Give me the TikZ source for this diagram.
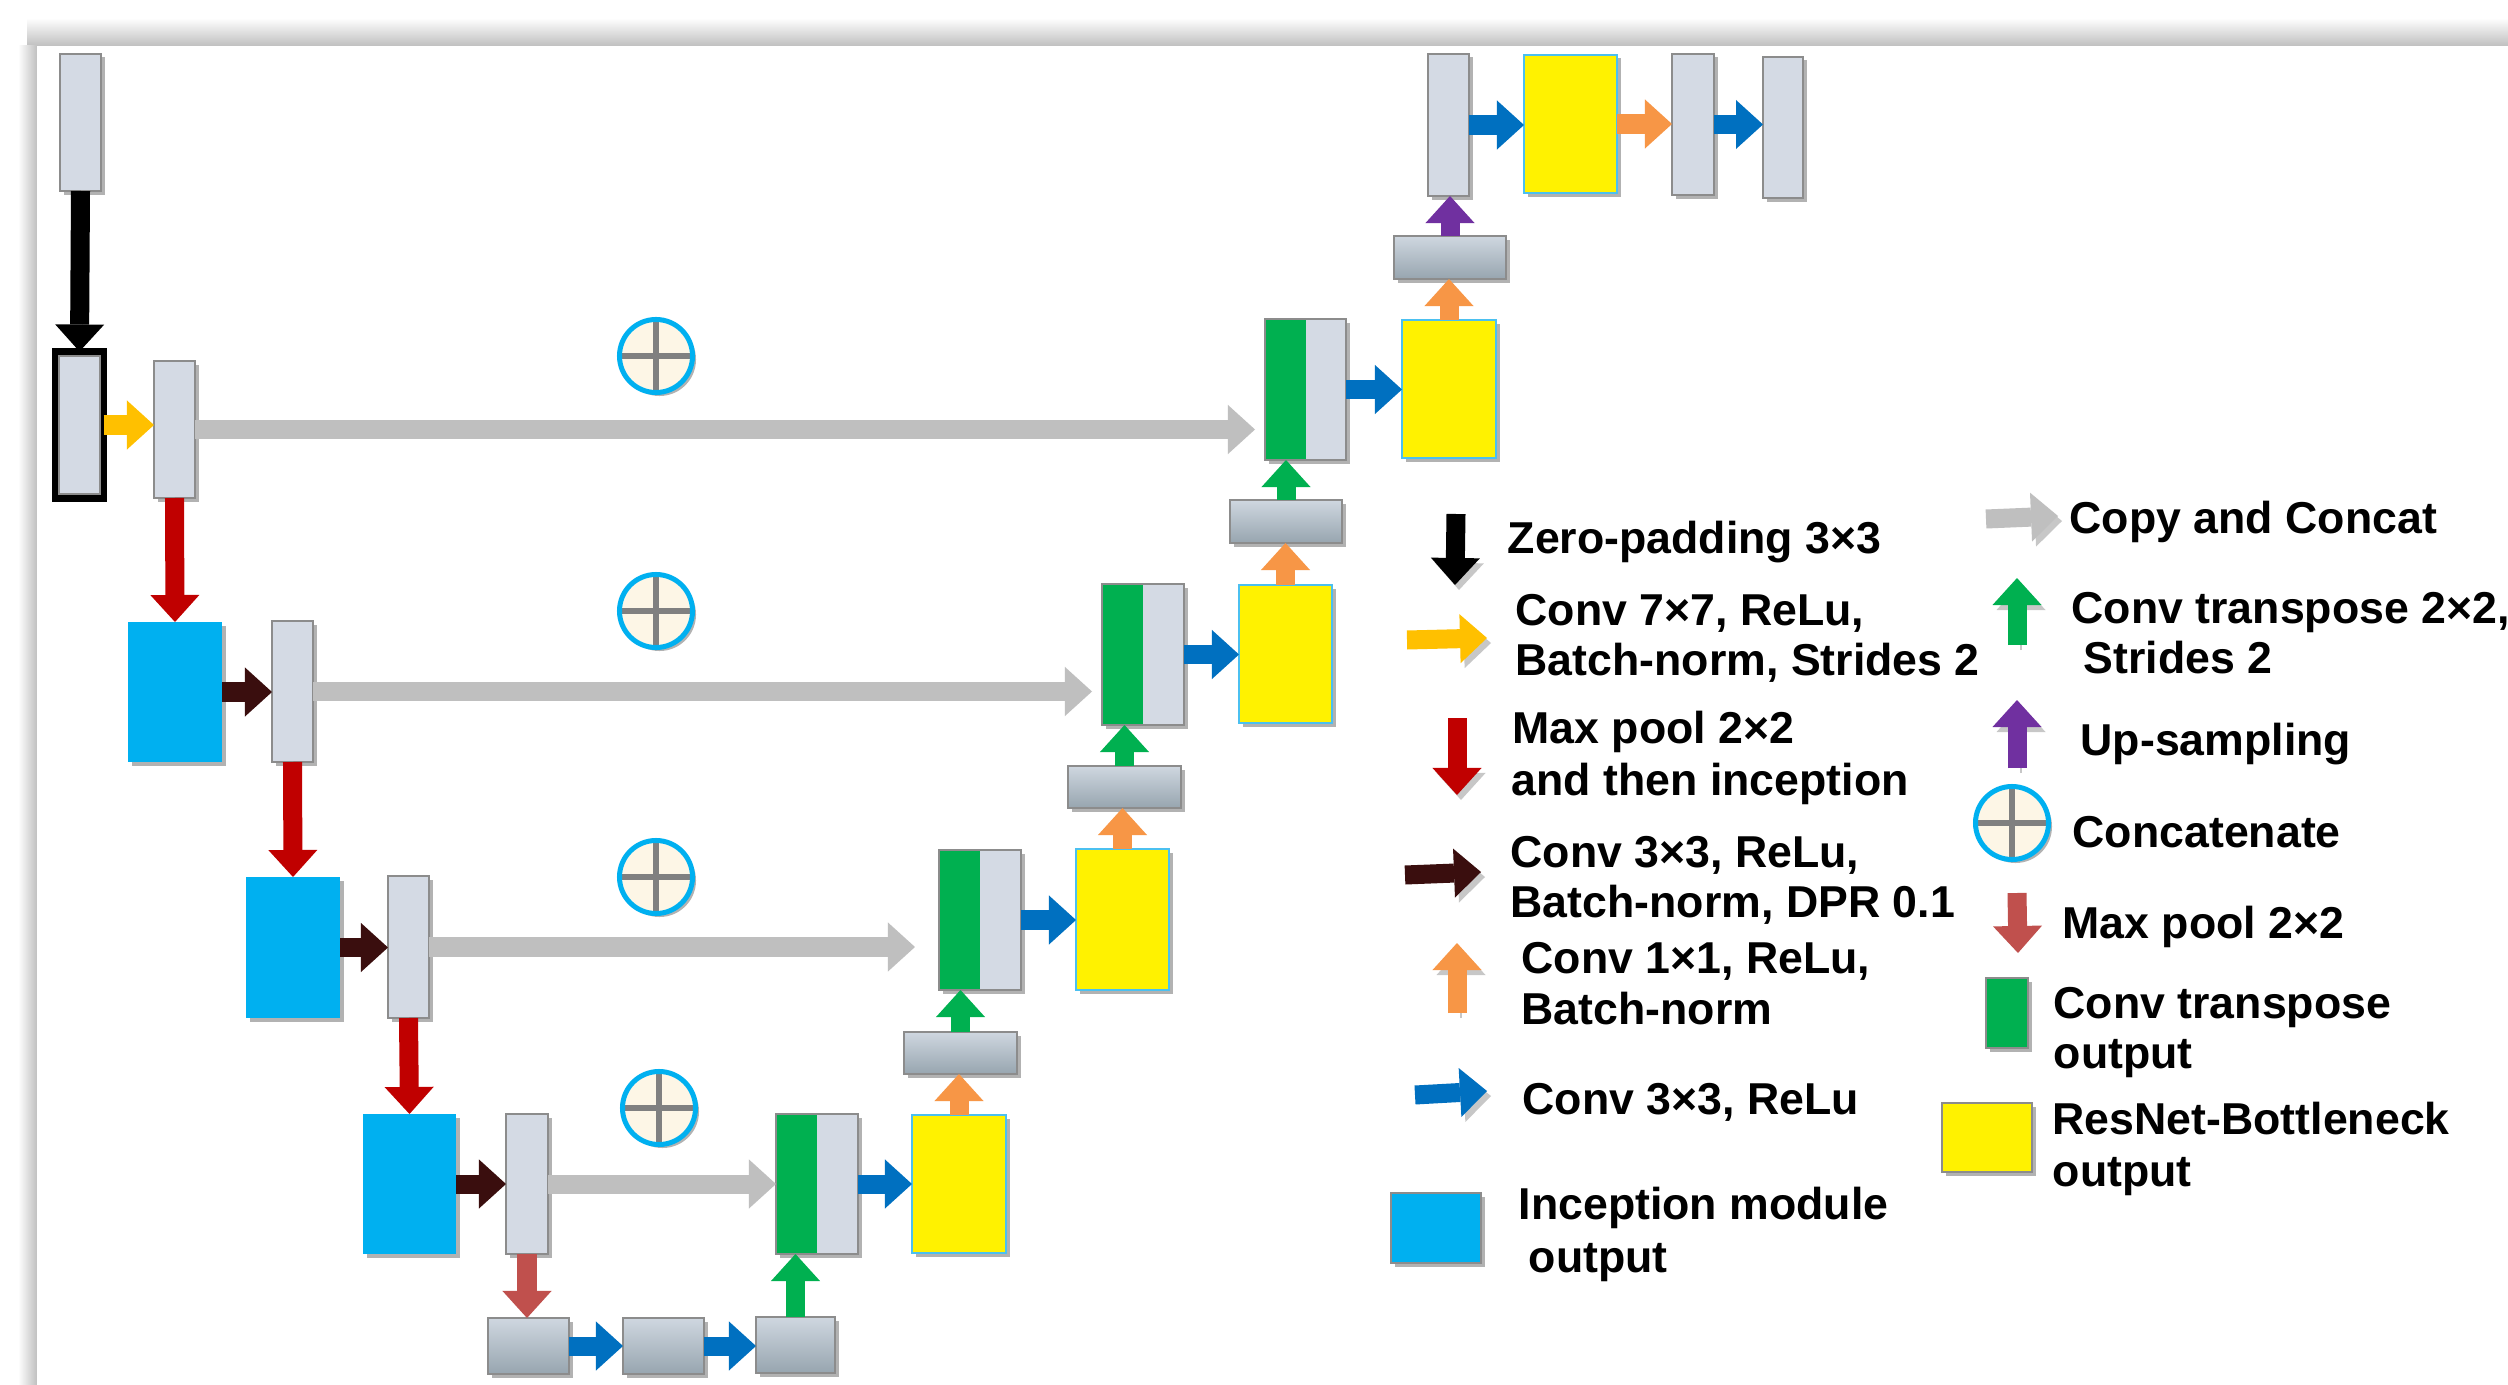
\documentclass[tikz,border=0pt]{standalone}
\usepackage{fontspec}
\setmainfont{Liberation Sans}
\usetikzlibrary{arrows.meta,fit,shadows,calc}
\definecolor{barfill}{HTML}{D4DAE4}
\definecolor{barline}{HTML}{8C8C8C}
\definecolor{hbtop}{HTML}{CFD7E0}
\definecolor{hbbot}{HTML}{97A5AF}
\definecolor{incblue}{HTML}{00B0F0}
\definecolor{cgreen}{HTML}{00B050}
\definecolor{cblue}{HTML}{0070C0}
\definecolor{corange}{HTML}{F79646}
\definecolor{cpurple}{HTML}{7030A0}
\definecolor{cred}{HTML}{C00000}
\definecolor{cpred}{HTML}{C0504D}
\definecolor{cbrown}{HTML}{3A0E0E}
\definecolor{cyel}{HTML}{FFC000}
\definecolor{cgray}{HTML}{BFBFBF}
\definecolor{cream}{HTML}{FDF6E6}
\definecolor{resline}{HTML}{4BC0F0}
\definecolor{crossg}{HTML}{808080}
\tikzset{
 bx/.style={inner sep=0pt, outer sep=0pt, line width=0.35pt},
 shd/.style={drop shadow={shadow xshift=0.035cm, shadow yshift=-0.035cm, opacity=0.3, fill=black}},
 bar/.style={bx, shd, draw=barline, fill=barfill},
 hbar/.style={bx, shd, draw=barline, top color=hbtop, bottom color=hbbot},
 inc/.style={bx, shd, fill=incblue},
 res/.style={bx, shd, draw=resline, fill=yellow, line width=0.5pt},
 ctb/.style={bar, path picture={\fill[cgreen] (path picture bounding box.north west) rectangle (path picture bounding box.south);}},
 cat/.style={circle, inner sep=0pt, outer sep=0pt, minimum size=0.73cm, draw=incblue, line width=0.05cm, fill=cream, shd,
   path picture={\draw[crossg, line width=0.065cm] (path picture bounding box.north) -- (path picture bounding box.south) (path picture bounding box.west) -- (path picture bounding box.east);}},
 ba/.style={color=#1, line width=0.19cm, -{Triangle[width=0.49cm,length=0.27cm,line width=0pt]}},
 lsh/.style={preaction={draw=black, opacity=0.22, transform canvas={shift={(0.04cm,-0.05cm)}}}},
 lab/.style={anchor=base west, inner sep=0pt, font=\bfseries\fontsize{12.7pt}{14pt}\selectfont},
}
\begin{document}
\begin{tikzpicture}[x=0.01cm,y=-0.01cm]
\useasboundingbox (0,0) rectangle (2508,1385);
% page and panel shadow
\fill[white] (0,0) rectangle (2508,1385);
\shade[top color=white, bottom color=black!25] (27,18) rectangle (2508,46);
\shade[left color=white, right color=black!25] (18,46) rectangle (37,1385);
\fill[white] (37,46) rectangle (2508,1385);

% ---------- encoder ----------
\node[bar, fit={(60,54) (101,191)}] (e0) {};
\node[bx, shd, draw=black, line width=0.07cm, fill=barfill, fit={(55.5,351.5) (103.5,498.5)}] (pad) {};
\draw[barline, line width=0.35pt] (59,356) rectangle (100,494);
\node[bar, fit={(154,361) (195,498)}] (e1) {};
\node[inc, fit={(128,622) (222,762)}] (i1) {};
\node[bar, fit={(272,621) (313,762)}] (e2) {};
\node[inc, fit={(246,877) (340,1018)}] (i2) {};
\node[bar, fit={(388,876) (429,1018)}] (e3) {};
\node[inc, fit={(363,1114) (456,1254)}] (i3) {};
\node[bar, fit={(506,1114) (548,1254)}] (e4) {};
% bottleneck row
\node[hbar, fit={(488,1318) (569,1374)}] (m1) {};
\node[hbar, fit={(623,1318) (704,1374)}] (m2) {};
\node[hbar, fit={(756,1317) (835,1373)}] (m3) {};
% ---------- decoder ----------
\node[ctb, fit={(776,1114) (858,1254)}] (g4) {};
\node[res, fit={(912,1115) (1006,1253)}] (y4) {};
\node[hbar, fit={(904,1032) (1017,1074)}] (h4) {};
\node[ctb, fit={(939,850) (1021,990)}] (g3) {};
\node[res, fit={(1076,849) (1169,990)}] (y3) {};
\node[hbar, fit={(1068,766) (1181,808)}] (h3) {};
\node[ctb, fit={(1102,584) (1184,725)}] (g2) {};
\node[res, fit={(1239,585) (1332,723)}] (y2) {};
\node[hbar, fit={(1230,500) (1342,543)}] (h2) {};
\node[ctb, fit={(1265,319) (1346,460)}] (g1) {};
\node[res, fit={(1402,320) (1496,458)}] (y1) {};
\node[hbar, fit={(1394,236) (1506,279)}] (h1) {};
\node[bar, fit={(1428,54) (1469,196)}] (ta) {};
\node[res, fit={(1524,55) (1617,193)}] (ty) {};
\node[bar, fit={(1672,54) (1714,195)}] (tb) {};
\node[bar, fit={(1763,57) (1803,198)}] (tc) {};
% concatenate symbols
\node[cat] (c1) at (656,356) {};
\node[cat] (c2) at (656,611) {};
\node[cat] (c3) at (656,877) {};
\node[cat] (c4) at (659,1108) {};

% ---------- connectors ----------
\draw[ba=black] (e0.south) -- (pad.north);
\draw[ba=cyel] (pad.east) -- (pad.east -| e1.west);
\draw[ba=cred] (e1.south) -- (i1.north);
\draw[ba=cbrown] (i1.east) -- (i1.east -| e2.west);
\draw[ba=cred] (e2.south) -- (i2.north);
\draw[ba=cbrown] (i2.east) -- (i2.east -| e3.west);
\draw[ba=cred] (e3.south) -- (i3.north);
\draw[ba=cbrown] (i3.east) -- (i3.east -| e4.west);
\draw[ba=cpred] (e4.south) -- (e4.south |- m1.north);
\draw[ba=cblue] (m1.east) -- (m1.east -| m2.west);
\draw[ba=cblue] (m2.east) -- (m2.east -| m3.west);
\draw[ba=cgreen] (m3.north) -- (m3.north |- g4.south);
% copy and concat
\draw[ba=cgray, shorten >=0.1cm] (e1.east) -- (e1.east -| g1.west);
\draw[ba=cgray, shorten >=0.1cm] (e2.east) -- (e2.east -| g2.west);
\draw[ba=cgray, shorten >=0.24cm] (e3.east) -- (e3.east -| g3.west);
\draw[ba=cgray] (e4.east) -- (e4.east -| g4.west);
% decoder
\draw[ba=cblue] (g4.east) -- (g4.east -| y4.west);
\draw[ba=corange] (y4.north) -- (y4.north |- h4.south);
\draw[ba=cgreen] (h4.north) -- (h4.north |- g3.south);
\draw[ba=cblue] (g3.east) -- (g3.east -| y3.west);
\draw[ba=corange] (y3.north) -- (y3.north |- h3.south);
\draw[ba=cgreen] (h3.north) -- (h3.north |- g2.south);
\draw[ba=cblue] (g2.east) -- (g2.east -| y2.west);
\draw[ba=corange] (y2.north) -- (y2.north |- h2.south);
\draw[ba=cgreen] (h2.north) -- (h2.north |- g1.south);
\draw[ba=cblue] (g1.east) -- (g1.east -| y1.west);
\draw[ba=corange] (y1.north) -- (y1.north |- h1.south);
\draw[ba=cpurple] (h1.north) -- (h1.north |- ta.south);
\draw[ba=cblue] (ta.east) -- (ta.east -| ty.west);
\draw[ba=corange] (ty.east) -- (ty.east -| tb.west);
\draw[ba=cblue] (tb.east) -- (tb.east -| tc.west);

% ---------- legend, left column ----------
\coordinate (la1) at (1456,514); \coordinate (lb1) at (1455,585);
\coordinate (la2) at (1407,640); \coordinate (lb2) at (1487,638);
\coordinate (la3) at (1457,718); \coordinate (lb3) at (1457,795);
\coordinate (la4) at (1405,875); \coordinate (lb4) at (1481,872);
\coordinate (la5) at (1457,1013); \coordinate (lb5) at (1457,943);
\coordinate (la6) at (1415,1095); \coordinate (lb6) at (1487,1091);
\draw[ba=black, lsh] (la1) -- (lb1);
\draw[ba=cyel, lsh] (la2) -- (lb2);
\draw[ba=cred, lsh] (la3) -- (lb3);
\draw[ba=cbrown, lsh] (la4) -- (lb4);
\draw[ba=corange, lsh] (la5) -- (lb5);
\draw[ba=cblue, lsh] (la6) -- (lb6);
\node[inc, draw=barline, fit={(1391,1193) (1481,1263)}] (lgi) {};
\node[lab] (t1) at (1507,553) {Zero-padding 3×3};
\node[lab] (t2a) at (1515,625) {Conv 7×7, ReLu,};
\node[lab] (t2b) at (1515,675) {Batch-norm, Strides 2};
\node[lab] (t3a) at (1512,743) {Max pool 2×2};
\node[lab] (t3b) at (1511,795) {and then inception};
\node[lab] (t4a) at (1510,867) {Conv 3×3, ReLu,};
\node[lab] (t4b) at (1510,917) {Batch-norm, DPR 0.1};
\node[lab] (t5a) at (1521,973) {Conv 1×1, ReLu,};
\node[lab] (t5b) at (1521,1024) {Batch-norm};
\node[lab] (t6) at (1522,1114) {Conv 3×3, ReLu};
\node[lab] (t7a) at (1518,1219) {Inception module};
\node[lab] (t7b) at (1528,1272) {output};

% ---------- legend, right column ----------
\coordinate (ra1) at (1986,519); \coordinate (rb1) at (2058,516);
\coordinate (ra2) at (2017,645); \coordinate (rb2) at (2017,578);
\coordinate (ra3) at (2017,768); \coordinate (rb3) at (2017,700);
\coordinate (ra5) at (2017,893); \coordinate (rb5) at (2018,953);
\draw[ba=cgray, lsh] (ra1) -- (rb1);
\draw[ba=cgreen, lsh] (ra2) -- (rb2);
\draw[ba=cpurple, lsh] (ra3) -- (rb3);
\node[cat] (lgc) at (2012,823) {};
\draw[ba=cpred] (ra5) -- (rb5);
\node[bx, shd, draw=barline, fill=cgreen, fit={(1986,978) (2028,1048)}] (lgg) {};
\node[bx, shd, draw=barline, fill=yellow, fit={(1942,1103) (2032,1172)}] (lgy) {};
\node[lab] (r1) at (2069,533) {Copy and Concat};
\node[lab] (r2a) at (2071,623) {Conv transpose 2×2,};
\node[lab] (r2b) at (2083,673) {Strides 2};
\node[lab] (r3) at (2080,755) {Up-sampling};
\node[lab] (r4) at (2072,847) {Concatenate};
\node[lab] (r5) at (2062,938) {Max pool 2×2};
\node[lab] (r6a) at (2053,1018) {Conv transpose};
\node[lab] (r6b) at (2053,1068) {output};
\node[lab] (r7a) at (2052,1134) {ResNet-Bottleneck};
\node[lab] (r7b) at (2052,1186) {output};
\end{tikzpicture}
\end{document}
